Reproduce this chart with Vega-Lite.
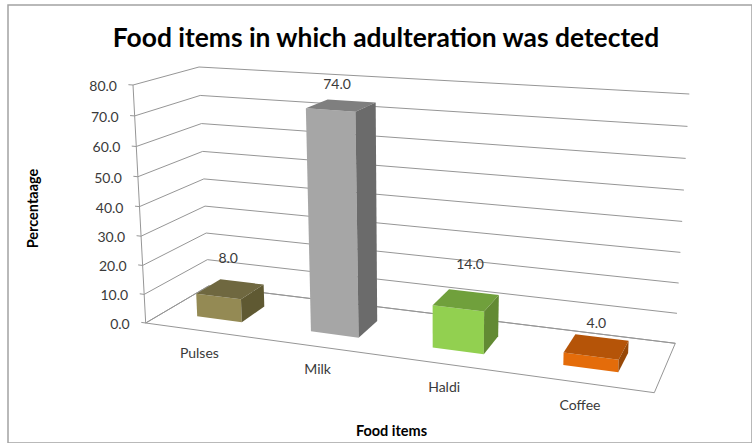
{
  "$schema": "https://vega.github.io/schema/vega-lite/v6.json",
  "autosize": "none",
  "padding": {"left": 8, "top": 5, "right": 0, "bottom": 0},
  "width": 744,
  "height": 438,
  "background": "white",
  "view": {"stroke": "#a3a3a3", "strokeWidth": 1.5, "fill": "white"},
  "title": {
    "text": "Food items in which adulteration was detected",
    "anchor": "middle",
    "dx": 6,
    "offset": -68,
    "baseline": "alphabetic",
    "font": "Lato",
    "fontWeight": "bold",
    "fontSize": 26.4,
    "color": "#000000"
  },
  "data": {
    "values": [
      {"kind": "grid", "value": 0},
      {"kind": "grid", "value": 10},
      {"kind": "grid", "value": 20},
      {"kind": "grid", "value": 30},
      {"kind": "grid", "value": 40},
      {"kind": "grid", "value": 50},
      {"kind": "grid", "value": 60},
      {"kind": "grid", "value": 70},
      {"kind": "grid", "value": 80},
      {"kind": "frame", "value": 80},
      {"kind": "bar", "item": "Pulses", "index": 0, "value": 8},
      {"kind": "bar", "item": "Milk", "index": 1, "value": 74},
      {"kind": "bar", "item": "Haldi", "index": 2, "value": 14},
      {"kind": "bar", "item": "Coffee", "index": 3, "value": 4}
    ]
  },
  "transform": [
    {
      "calculate": "datum.kind==='bar'?[{f:'front',n:0,t:-0.05,d:0.3,k:0},{f:'front',n:1,t:0.05,d:0.3,k:0},{f:'front',n:2,t:0.05,d:0.3,k:1},{f:'front',n:3,t:-0.05,d:0.3,k:1},{f:'top',n:0,t:-0.05,d:0.3,k:1},{f:'top',n:1,t:0.05,d:0.3,k:1},{f:'top',n:2,t:0.05,d:0.7,k:1},{f:'top',n:3,t:-0.05,d:0.7,k:1},{f:'side',n:0,t:0.05,d:0.3,k:0},{f:'side',n:1,t:0.05,d:0.7,k:0},{f:'side',n:2,t:0.05,d:0.7,k:1},{f:'side',n:3,t:0.05,d:0.3,k:1},{f:'category',n:0,t:0,d:0,k:0},{f:'label',n:0,t:0,d:0.5,k:1}]:datum.kind==='grid'?[{f:'grid',n:0,t:-0.01,d:0,k:1},{f:'grid',n:1,t:0,d:0,k:1},{f:'grid',n:2,t:0,d:1,k:1},{f:'grid',n:3,t:1,d:1,k:1},{f:'tick',n:0,t:0,d:0,k:1}]:[{f:'spine',n:0,t:0,d:0,k:0},{f:'spine',n:1,t:0,d:0,k:1},{f:'floor',n:0,t:0,d:0,k:0},{f:'floor',n:1,t:1,d:0,k:0},{f:'floor',n:2,t:1,d:1,k:0},{f:'floor',n:3,t:0,d:1,k:0},{f:'floor',n:4,t:0,d:0,k:0}]",
      "as": "c"
    },
    {"flatten": ["c"]},
    {"calculate": "datum.c.f", "as": "f"},
    {"calculate": "datum.c.n", "as": "n"},
    {"calculate": "datum.c.d", "as": "d"},
    {"calculate": "(datum.kind==='bar'?(datum.index+0.5)/4:0)+datum.c.t", "as": "t"},
    {"calculate": "datum.t/(datum.t+1.15*(1-datum.t))", "as": "u"},
    {"calculate": "datum.c.k*datum.value/80", "as": "h"},
    {"calculate": "datum.h/(datum.h+1.045*(1-datum.h))", "as": "w"},
    {"calculate": "(1-datum.d)*((1-datum.u)*145.7+datum.u*654.3)+datum.d*((1-datum.u)*208.5+datum.u*675.3)", "as": "x0"},
    {"calculate": "(1-datum.d)*((1-datum.u)*133+datum.u*661.7)+datum.d*((1-datum.u)*199+datum.u*689.3)", "as": "x1"},
    {"calculate": "(1-datum.d)*((1-datum.u)*323+datum.u*392.7)+datum.d*((1-datum.u)*286+datum.u*343.3)", "as": "y0"},
    {"calculate": "(1-datum.d)*((1-datum.u)*85+datum.u*120.7)+datum.d*((1-datum.u)*67+datum.u*94)", "as": "y1"},
    {"calculate": "datum.x0+datum.w*(datum.x1-datum.x0)", "as": "px"},
    {"calculate": "datum.y0+datum.w*(datum.y1-datum.y0)", "as": "py"}
  ],
  "encoding": {
    "x": {
      "field": "px",
      "type": "quantitative",
      "scale": {"domain": [8, 752], "nice": false, "zero": false},
      "axis": {
        "title": "Food items",
        "labels": false,
        "ticks": false,
        "domain": false,
        "grid": false,
        "titleFont": "Lato",
        "titleFontWeight": "bold",
        "titleFontSize": 14.5,
        "titleColor": "#000000",
        "titleX": 383,
        "titleY": -12,
        "titleBaseline": "middle"
      }
    },
    "y": {
      "field": "py",
      "type": "quantitative",
      "scale": {"domain": [443, 5], "nice": false, "zero": false},
      "axis": {
        "title": "Percentaage",
        "labels": false,
        "ticks": false,
        "domain": false,
        "grid": false,
        "titleFont": "Lato",
        "titleFontWeight": "bold",
        "titleFontSize": 14.5,
        "titleColor": "#000000",
        "titleX": 25,
        "titleY": 203,
        "titleAngle": -90,
        "titleBaseline": "middle"
      }
    }
  },
  "layer": [
    {
      "transform": [{"filter": "datum.f==='grid'"}],
      "mark": {"type": "line", "stroke": "#969696", "strokeWidth": 1, "interpolate": "linear"},
      "encoding": {
        "detail": {"field": "value"},
        "order": {"field": "n", "type": "quantitative"}
      }
    },
    {
      "transform": [{"filter": "datum.f==='floor' || datum.f==='spine'"}],
      "mark": {"type": "line", "stroke": "#969696", "strokeWidth": 1, "interpolate": "linear"},
      "encoding": {
        "detail": {"field": "f"},
        "order": {"field": "n", "type": "quantitative"}
      }
    },
    {
      "transform": [
        {"filter": "datum.f==='front' || datum.f==='top' || datum.f==='side'"},
        {"calculate": "datum.item+' '+datum.f", "as": "face"}
      ],
      "mark": {"type": "line", "filled": true, "interpolate": "linear"},
      "encoding": {
        "color": {
          "field": "face",
          "legend": null,
          "scale": {
            "domain": [
              "Pulses front", "Pulses top", "Pulses side",
              "Milk front", "Milk top", "Milk side",
              "Haldi front", "Haldi top", "Haldi side",
              "Coffee front", "Coffee top", "Coffee side"
            ],
            "range": [
              "#948a54", "#6f6840", "#5f5932",
              "#a6a6a6", "#7f7f7f", "#6b6b6b",
              "#92d050", "#70a03c", "#628a33",
              "#e46c0a", "#b55408", "#984807"
            ]
          }
        },
        "order": {"field": "n", "type": "quantitative"}
      }
    },
    {
      "transform": [{"filter": "datum.f==='tick'"}],
      "mark": {"type": "text", "align": "right", "baseline": "middle", "dx": -16, "dy": 2, "font": "Lato", "fontSize": 14, "color": "#3a3a3a"},
      "encoding": {
        "text": {"field": "value", "type": "quantitative", "format": ".1f"}
      }
    },
    {
      "transform": [{"filter": "datum.f==='category'"}],
      "mark": {"type": "text", "align": "center", "baseline": "middle", "dx": -2.5, "dy": 23.5, "font": "Lato", "fontSize": 14, "color": "#3a3a3a"},
      "encoding": {
        "text": {"field": "item", "type": "nominal"}
      }
    },
    {
      "transform": [
        {"filter": "datum.f==='label'"},
        {"calculate": "{Pulses:[-2,-30],Milk:[-4,-20],Haldi:[4,-35],Coffee:[0,-23]}[datum.item]", "as": "nudge"},
        {"calculate": "datum.px+datum.nudge[0]", "as": "lx"},
        {"calculate": "datum.py+datum.nudge[1]", "as": "ly"}
      ],
      "mark": {"type": "text", "align": "center", "baseline": "middle", "font": "Lato", "fontSize": 14, "color": "#3a3a3a"},
      "encoding": {
        "x": {"field": "lx", "type": "quantitative"},
        "y": {"field": "ly", "type": "quantitative"},
        "text": {"field": "value", "type": "quantitative", "format": ".1f"}
      }
    }
  ]
}
